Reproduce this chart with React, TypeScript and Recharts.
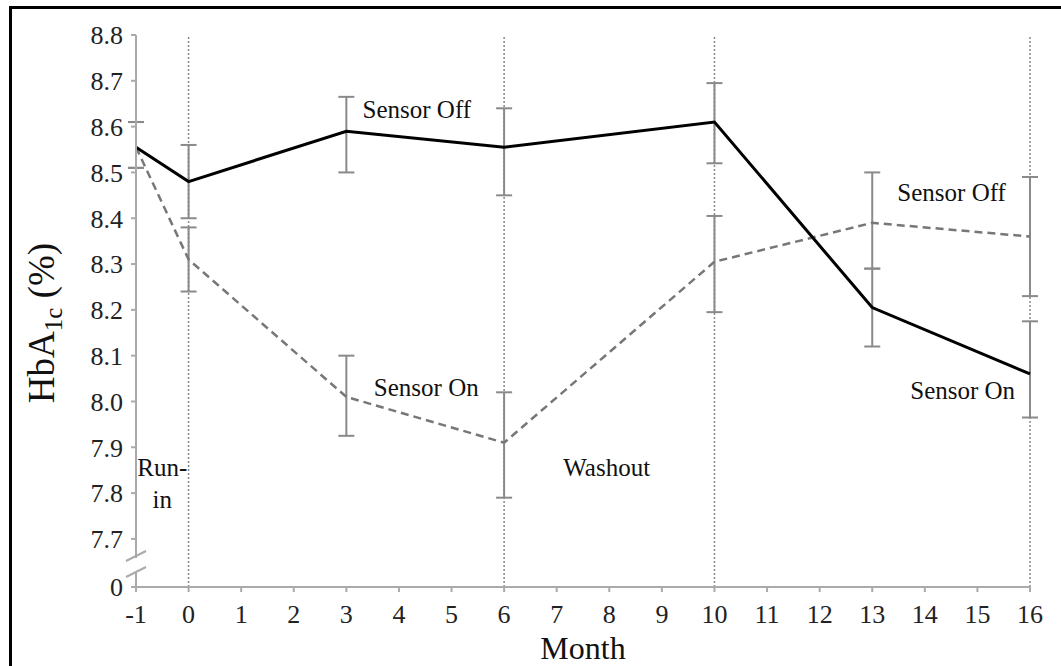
import React from 'react';
import {
  LineChart,
  Line,
  XAxis,
  YAxis,
  ErrorBar,
  ReferenceLine,
  ReferenceDot,
  Label,
} from 'recharts';

// months of the visits
const months = [-1, 0, 3, 6, 10, 13, 16];

// solid line (sensor off first)
const solidMean = [8.555, 8.48, 8.59, 8.555, 8.61, 8.205, 8.06];
const solidLow = [8.51, 8.4, 8.5, 8.45, 8.52, 8.12, 7.965];
const solidHigh = [8.61, 8.56, 8.665, 8.64, 8.695, 8.29, 8.175];

// dashed line (sensor on first)
const dashedMean = [8.555, 8.31, 8.01, 7.91, 8.305, 8.39, 8.36];
const dashedLow = [8.51, 8.24, 7.925, 7.79, 8.195, 8.29, 8.23];
const dashedHigh = [8.61, 8.38, 8.1, 8.02, 8.405, 8.5, 8.49];

const xTicks = [-1, 0, 1, 2, 3, 4, 5, 6, 7, 8, 9, 10, 11, 12, 13, 14, 15, 16];
// the lowest tick stands for 0 below the axis break
const breakValue = 7.595;
const yTicks = [breakValue, 7.7, 7.8, 7.9, 8.0, 8.1, 8.2, 8.3, 8.4, 8.5, 8.6, 8.7, 8.8];

const phaseLines = [0, 6, 10, 16];

const notes = [
  { text: 'Sensor Off', month: 4.34, value: 8.638 },
  { text: 'Sensor On', month: 4.52, value: 8.031 },
  { text: 'Washout', month: 7.95, value: 7.857 },
  { text: 'Sensor Off', month: 14.51, value: 8.457 },
  { text: 'Sensor On', month: 14.72, value: 8.025 },
  { text: 'Run-', month: -0.5, value: 7.857 },
  { text: 'in', month: -0.5, value: 7.787 },
];

const data = months.map((month, i) => ({
  month,
  off: solidMean[i],
  offErr: [solidMean[i] - solidLow[i], solidHigh[i] - solidMean[i]],
  on: dashedMean[i],
  onErr: [dashedMean[i] - dashedLow[i], dashedHigh[i] - dashedMean[i]],
}));

const font = '"Liberation Serif", "Times New Roman", serif';
const axisGray = '#aaa';
const TICK_SIZE = 5;
const Y_TICK_MARGIN = 8;

const YTick = (props: any) => {
  const { x, y, payload } = props;
  const isBreak = payload.value < 7.65;
  const ax = x + TICK_SIZE + Y_TICK_MARGIN;
  return (
    <g>
      {isBreak && (
        <g>
          <rect x={ax - 3} y={y - 29} width={6} height={15} fill="#fff" />
          <line x1={ax - 10} y1={y - 26} x2={ax + 10} y2={y - 36} stroke={axisGray} strokeWidth={2} />
          <line x1={ax - 10} y1={y - 10} x2={ax + 10} y2={y - 20} stroke={axisGray} strokeWidth={2} />
        </g>
      )}
      <text x={x} y={y} dy="0.36em" textAnchor="end" fontSize={26} fill="#222" style={{ fontFamily: font }}>
        {isBreak ? '0' : payload.value.toFixed(1)}
      </text>
    </g>
  );
};

const YTitle = ({ viewBox }: any) => {
  const cx = viewBox.x + 54;
  const cy = viewBox.y + viewBox.height / 2 + 12;
  return (
    <text
      x={cx}
      y={cy}
      transform={`rotate(-90 ${cx} ${cy})`}
      textAnchor="middle"
      fontSize={37}
      fill="#111"
      style={{ fontFamily: font }}
    >
      HbA<tspan fontSize={25} dy={8}>1c</tspan>
      <tspan dy={-8}> (%)</tspan>
    </text>
  );
};

const XTitle = ({ viewBox }: any) => (
  <text
    x={viewBox.x + viewBox.width / 2}
    y={viewBox.y + 72}
    textAnchor="middle"
    fontSize={32}
    fill="#111"
    style={{ fontFamily: font }}
  >
    Month
  </text>
);

export default function App() {
  return (
    <div
      style={{
        position: 'absolute',
        left: 0,
        top: 0,
        width: 1061,
        height: 666,
        background: '#fff',
        overflow: 'hidden',
        fontFamily: font,
      }}
    >
      <div
        style={{
          position: 'absolute',
          left: 9,
          top: 6,
          width: 1070,
          height: 680,
          borderLeft: '3px solid #000',
          borderTop: '3px solid #000',
        }}
      />
      <div style={{ position: 'absolute', left: 0, top: 0 }}>
        <LineChart width={1061} height={666} data={data} margin={{ top: 35, right: 31, bottom: 0, left: 0 }}>
          <XAxis
            dataKey="month"
            type="number"
            domain={[-1, 16]}
            ticks={xTicks}
            interval={0}
            stroke={axisGray}
            strokeWidth={2}
            tickSize={TICK_SIZE}
            tickMargin={13}
            height={79}
            tick={{ fontSize: 26, fill: '#222', style: { fontFamily: font } }}
          >
            <Label content={<XTitle />} />
          </XAxis>
          <YAxis
            type="number"
            domain={[breakValue, 8.8]}
            ticks={yTicks}
            interval={0}
            width={136}
            stroke={axisGray}
            strokeWidth={2}
            tickSize={TICK_SIZE}
            tickMargin={Y_TICK_MARGIN}
            tick={<YTick />}
          >
            <Label content={<YTitle />} />
          </YAxis>
          {phaseLines.map((m) => (
            <ReferenceLine key={m} x={m} stroke="#888" strokeWidth={1.5} strokeDasharray="2 2" />
          ))}
          <Line
            type="linear"
            dataKey="on"
            stroke="#777"
            strokeWidth={2.5}
            strokeDasharray="8 5"
            dot={false}
            isAnimationActive={false}
          >
            <ErrorBar dataKey="onErr" direction="y" width={8} stroke="#8a8a8a" strokeWidth={2} isAnimationActive={false} />
          </Line>
          <Line type="linear" dataKey="off" stroke="#000" strokeWidth={3} dot={false} isAnimationActive={false}>
            <ErrorBar dataKey="offErr" direction="y" width={8} stroke="#8a8a8a" strokeWidth={2} isAnimationActive={false} />
          </Line>
          {notes.map((n, i) => (
            <ReferenceDot
              key={i}
              x={n.month}
              y={n.value}
              r={0}
              fill="none"
              stroke="none"
              label={{ value: n.text, position: 'center', fontSize: 25, fill: '#111', style: { fontFamily: font } }}
            />
          ))}
        </LineChart>
      </div>
    </div>
  );
}
